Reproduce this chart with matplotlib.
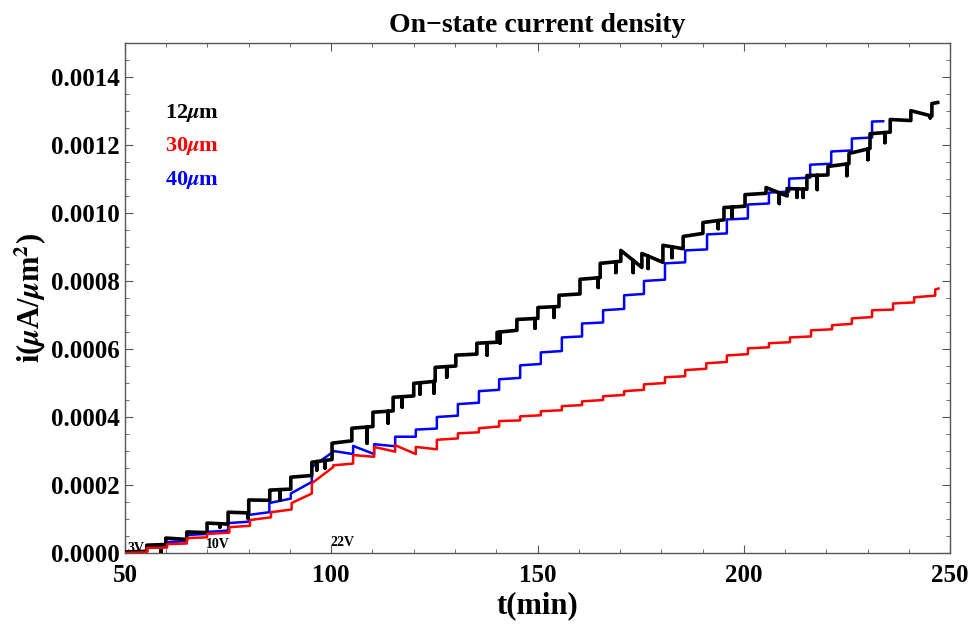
import numpy as np
import matplotlib
matplotlib.use("Agg")
import matplotlib.pyplot as plt
from matplotlib.ticker import MultipleLocator

plt.rcParams['font.family'] = 'serif'
plt.rcParams['font.serif'] = ['Liberation Serif', 'DejaVu Serif']
plt.rcParams['font.weight'] = 'bold'
plt.rcParams['mathtext.fontset'] = 'stix'

# --- data: step start times (min), level at step start / step end (uA/um^2) ---
t_12 = [50.0, 55.3, 59.9, 65.0, 69.9, 75.0, 80.0, 85.1, 90.2, 95.3, 100.2, 105.0,
        110.1, 115.0, 120.0, 125.2, 130.2, 135.3, 140.2, 145.0, 150.1, 155.2, 160.3,
        165.2, 170.2, 175.3, 180.4, 185.3, 190.1, 195.2, 200.3, 205.4, 210.5, 215.3,
        220.4, 225.5, 230.6, 235.5, 240.5, 245.6]
start_12 = [0.000003, 0.000023, 0.000044, 0.000062, 0.000088, 0.000120, 0.000156,
            0.000185, 0.000223, 0.000267, 0.000323, 0.000367, 0.000414, 0.000458,
            0.000499, 0.000546, 0.000582, 0.000617, 0.000649, 0.000687, 0.000722,
            0.000758, 0.000805, 0.000852, 0.000890, 0.000881, 0.000905, 0.000931,
            0.000972, 0.001016, 0.001054, 0.001075, 0.001072, 0.001110, 0.001137,
            0.001175, 0.001233, 0.001275, 0.001301, 0.001322]
end_12 = [0.000005, 0.000025, 0.000040, 0.000060, 0.000085, 0.000118, 0.000155,
          0.000188, 0.000228, 0.000275, 0.000330, 0.000372, 0.000418, 0.000462,
          0.000505, 0.000550, 0.000585, 0.000620, 0.000655, 0.000690, 0.000725,
          0.000762, 0.000810, 0.000858, 0.000840, 0.000855, 0.000895, 0.000940,
          0.000980, 0.001020, 0.001058, 0.001050, 0.001070, 0.001112, 0.001145,
          0.001190, 0.001238, 0.001272, 0.001285, 0.001325]
tend_12 = 247.0
# downward noise spikes on the 12um trace: (time, lowest value)
spikes_12 = [(58.7, 0.000000), (73.0, 0.000076), (79.8, 0.000103), (87.6, 0.000155),
             (96.5, 0.000244), (98.5, 0.000250), (108.7, 0.000323), (113.8, 0.000382),
             (117.2, 0.000429), (121.5, 0.000467), (124.9, 0.000470), (128.0, 0.000517),
             (137.8, 0.000582), (140.9, 0.000617), (149.4, 0.000661), (154.0, 0.000693),
             (164.7, 0.000781), (169.0, 0.000825), (173.2, 0.000825), (176.8, 0.000837),
             (182.6, 0.000869), (193.8, 0.000954), (197.2, 0.000987), (208.6, 0.001028),
             (212.9, 0.001046), (214.4, 0.001046), (217.8, 0.001069), (225.0, 0.001110),
             (230.1, 0.001157), (234.2, 0.001207), (245.2, 0.001280)]

t_30 = [50.0, 55.3, 60.2, 65.0, 69.9, 75.3, 80.3, 85.4, 90.4, 95.3, 100.5, 105.3,
        110.4, 115.5, 120.5, 125.6, 130.7, 135.8, 140.7, 145.8, 150.8, 155.9, 160.8,
        165.9, 171.0, 175.8, 180.9, 185.8, 190.9, 195.9, 201.0, 206.1, 211.2, 216.3,
        221.4, 226.2, 231.1, 236.2, 241.3, 246.4]
start_30 = [0.000000, 0.000015, 0.000026, 0.000044, 0.000056, 0.000076, 0.000097,
            0.000120, 0.000147, 0.000205, 0.000258, 0.000288, 0.000312, 0.000317,
            0.000312, 0.000333, 0.000352, 0.000367, 0.000388, 0.000402, 0.000417,
            0.000432, 0.000446, 0.000461, 0.000476, 0.000496, 0.000517, 0.000538,
            0.000558, 0.000581, 0.000602, 0.000617, 0.000634, 0.000655, 0.000670,
            0.000690, 0.000714, 0.000734, 0.000752, 0.000775]
end_30 = [0.000002, 0.000016, 0.000028, 0.000046, 0.000060, 0.000080, 0.000105,
          0.000128, 0.000175, 0.000253, 0.000263, 0.000283, 0.000298, 0.000291,
          0.000305, 0.000337, 0.000355, 0.000372, 0.000390, 0.000405, 0.000420,
          0.000435, 0.000450, 0.000465, 0.000480, 0.000500, 0.000520, 0.000542,
          0.000562, 0.000585, 0.000605, 0.000620, 0.000637, 0.000658, 0.000674,
          0.000694, 0.000716, 0.000737, 0.000757, 0.000778]
tend_30 = 247.2

t_40 = [50.0, 55.3, 60.0, 65.0, 70.0, 75.0, 80.0, 85.0, 90.2, 95.3, 100.5, 105.3,
        110.4, 115.5, 120.5, 125.6, 130.7, 135.8, 140.7, 145.8, 150.8, 155.9, 160.8,
        165.9, 171.0, 175.8, 180.9, 185.8, 191.1, 195.9, 201.0, 206.1, 211.0, 216.1,
        221.2, 226.2, 231.1]
start_40 = [0.000002, 0.000020, 0.000032, 0.000053, 0.000062, 0.000088, 0.000112,
            0.000147, 0.000175, 0.000253, 0.000300, 0.000315, 0.000320, 0.000342,
            0.000363, 0.000400, 0.000438, 0.000476, 0.000511, 0.000552, 0.000590,
            0.000634, 0.000675, 0.000714, 0.000758, 0.000800, 0.000852, 0.000890,
            0.000937, 0.000981, 0.001025, 0.001060, 0.001101, 0.001142, 0.001181,
            0.001219, 0.001269]
end_40 = [0.000004, 0.000022, 0.000035, 0.000056, 0.000066, 0.000092, 0.000120,
          0.000160, 0.000209, 0.000298, 0.000291, 0.000291, 0.000314, 0.000342,
          0.000366, 0.000404, 0.000442, 0.000480, 0.000515, 0.000556, 0.000594,
          0.000637, 0.000678, 0.000718, 0.000762, 0.000804, 0.000855, 0.000893,
          0.000940, 0.000984, 0.001028, 0.001063, 0.001104, 0.001145, 0.001184,
          0.001222, 0.001270]
tend_40 = 233.8

# voltage annotations (time, value, text)
volt_labels = [(52.7, 0.000012, '3V'), (72.5, 0.000024, '10V'), (102.6, 0.000030, '22V')]


def staircase(t, start, end, t_end, spikes=()):
    edges = list(t) + [t_end]
    xs, ys = [], []
    for i in range(len(t)):
        t0, t1 = edges[i], edges[i + 1]
        xs.append(t0); ys.append(start[i])
        for ts, vs in spikes:
            if t0 < ts < t1:
                base = start[i] + (end[i] - start[i]) * (ts - t0) / (t1 - t0)
                xs += [ts, ts, ts]; ys += [base, vs, base]
        xs.append(t1); ys.append(end[i])
    return xs, ys


fig = plt.figure(figsize=(9.74, 6.26), dpi=100)
ax = fig.add_axes([0.1283, 0.1166, 0.8471, 0.8147])

for tv, v, s in volt_labels:
    ax.text(tv, v, s, fontsize=10, fontweight='bold', ha='center', va='center', zorder=1)

x, y = staircase(t_40, start_40, end_40, tend_40)
ax.plot(x, y, color='blue', lw=1.8, zorder=2)
x, y = staircase(t_12, start_12, end_12, tend_12, spikes_12)
ax.plot(x, y, color='black', lw=2.6, zorder=3)
x, y = staircase(t_30, start_30, end_30, tend_30)
ax.plot(x, y, color='red', lw=1.8, zorder=4)

ax.text(0.048, 0.863, r'12$\mu$m', color='black', fontsize=16, transform=ax.transAxes, va='center')
ax.text(0.048, 0.798, r'30$\mu$m', color='red', fontsize=16, transform=ax.transAxes, va='center')
ax.text(0.048, 0.731, r'40$\mu$m', color='blue', fontsize=16, transform=ax.transAxes, va='center')

ax.set_xlim(50, 250)
ax.set_ylim(0, 0.0015)
ax.xaxis.set_major_locator(MultipleLocator(50))
ax.xaxis.set_minor_locator(MultipleLocator(10))
ax.yaxis.set_major_locator(MultipleLocator(0.0002))
ax.yaxis.set_minor_locator(MultipleLocator(0.00005))
ax.yaxis.set_major_formatter(matplotlib.ticker.FormatStrFormatter('%.4f'))
ax.tick_params(which='both', direction='in', top=True, right=True, color='#555555')
ax.tick_params(which='major', length=6, labelsize=18)
ax.tick_params(which='minor', length=3)
ax.tick_params(axis='x', pad=8)
ax.tick_params(axis='y', pad=4)
for sp in ax.spines.values():
    sp.set_color('#555555')
    sp.set_linewidth(1.0)

ax.set_title('On\u2212state current density', fontsize=20, fontweight='bold', pad=8)
ax.set_xlabel('t(min)', fontsize=22, fontweight='bold', labelpad=3)
ax.set_ylabel(r'i($\mu$A/$\mu$m$^2$)', fontsize=22, fontweight='bold', labelpad=1)

fig.savefig('out.png', dpi=100)
